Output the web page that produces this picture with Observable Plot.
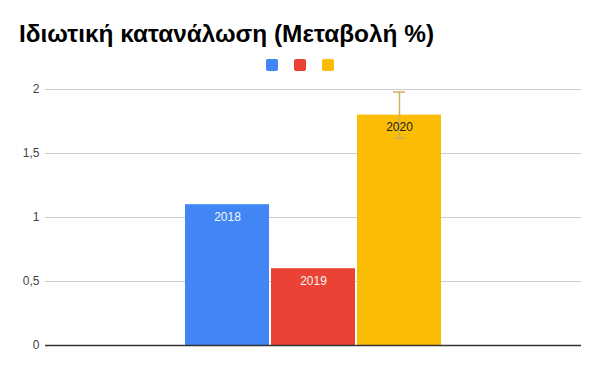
<!DOCTYPE html>
<html><head><meta charset="utf-8">
<script src="https://cdn.jsdelivr.net/npm/d3@7"></script>
<script src="https://cdn.jsdelivr.net/npm/@observablehq/plot@0.6"></script>
<style>
body{margin:0;background:#fff;font-family:"Liberation Sans",Arial,sans-serif;}
#wrap{width:600px;height:371px;overflow:hidden;position:relative}
#title{height:50px;box-sizing:border-box;padding:22px 0 0 19px;font-size:24.4px;line-height:24px;font-weight:bold;color:#000;white-space:nowrap}
#legend{height:28px;box-sizing:border-box;padding-top:9px;display:flex;justify-content:center;gap:16px}
#legend span{width:12px;height:12px;border-radius:2px;display:block}
</style></head><body>
<div id="wrap"><div id="title"></div><div id="legend"></div><div id="chart"></div></div>
<script>
const titleText = "Ιδιωτική κατανάλωση (Μεταβολή %)";
const categories = ["2018", "2019", "2020"];
const values = [1.1, 0.6, 1.8];
const colors = ["#4285F4", "#EA4335", "#FBBC04"];
const labelColors = ["#f5f5f5", "#f5f5f5", "#222222"];
const errorCategories = ["2020"];
const errorLow = [1.62];
const errorHigh = [1.98];
const yTicks = [0, 0.5, 1, 1.5, 2];

document.getElementById("title").textContent = titleText;
const legend = document.getElementById("legend");
categories.forEach((c, i) => {
  const s = document.createElement("span");
  s.style.background = colors[i];
  s.title = c;
  legend.appendChild(s);
});

const data = categories.map((c, i) => ({cat: c, value: values[i], color: colors[i], lc: labelColors[i]}));
const errs = errorCategories.map((c, i) => ({cat: c, lo: errorLow[i], hi: errorHigh[i]}));
const fmt = d => String(d).replace(".", ",");

const chart = Plot.plot({
  width: 600,
  height: 293,
  marginTop: 11,
  marginBottom: 26,
  marginLeft: 45,
  marginRight: 19,
  style: {fontFamily: '"Liberation Sans", Arial, sans-serif', fontSize: "12px", color: "#444", background: "#fff"},
  x: {domain: categories, paddingInner: 0.02, paddingOuter: 1.6237, axis: null},
  y: {domain: [0, 2], ticks: yTicks, tickFormat: fmt, tickSize: 0, tickPadding: 6, label: null},
  marks: [
    Plot.ruleY(yTicks.filter(t => t !== 0), {stroke: "#cccccc", strokeWidth: 1}),
    Plot.barY(data, {x: "cat", y: "value", fill: "color"}),
    Plot.ruleX(errs, {x: "cat", y1: "lo", y2: "hi", stroke: "#cdb060", strokeWidth: 1.5}),
    Plot.tickY(errs, {x: "cat", y: "lo", stroke: "#cdb060", strokeWidth: 1.5, insetLeft: 36, insetRight: 36}),
    Plot.tickY(errs, {x: "cat", y: "hi", stroke: "#cdb060", strokeWidth: 1.5, insetLeft: 36, insetRight: 36}),
    Plot.text(data, {x: "cat", y: "value", text: "cat", fill: "lc", dy: 12, fontSize: 12}),
    Plot.ruleY([0], {stroke: "#333333", strokeWidth: 1.3})
  ]
});
document.getElementById("chart").appendChild(chart);
</script>
</body></html>
